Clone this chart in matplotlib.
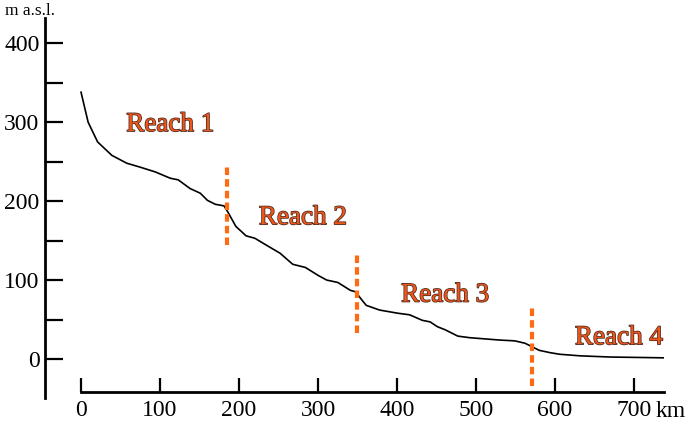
import matplotlib
matplotlib.use('Agg')
import matplotlib.pyplot as plt
import matplotlib.patheffects as pe

# longitudinal profile (km from source, elevation m a.s.l.)
km = [0, 9, 21, 39, 58, 75, 94, 113, 123, 138, 151, 160, 170, 181, 186,
      196, 209, 220, 235, 252, 268, 284, 300, 311, 325, 341, 348, 353, 361,
      378, 401, 416, 432, 442, 451, 461, 477, 492, 530, 549, 562, 572, 580,
      594, 606, 632, 670, 737]
elev = [338, 300, 275, 258, 248, 243, 237, 229, 227, 216, 210, 201, 196, 194, 186,
        168, 156, 153, 144, 134, 120, 116, 106, 100, 97, 87, 85, 78, 68,
        62, 58, 56, 49, 47, 41, 37, 29, 27, 24, 23, 20, 15, 11,
        8, 6, 4, 2.5, 1.5]

# reach boundaries: km, dashed line from/to elevation
bound_km = [185, 349, 571]
bound_top = [243, 132, 65]
bound_bot = [144, 33, -34]

reach_names = ['Reach 1', 'Reach 2', 'Reach 3', 'Reach 4']
reach_x = [113, 281, 461, 681]
reach_y = [297, 179, 81, 27]

yticks = [0, 100, 200, 300, 400]
yminor = [50, 150, 250, 350]
xticks = [0, 100, 200, 300, 400, 500, 600, 700]

plt.rcParams['font.family'] = ['Liberation Serif', 'DejaVu Serif']

W, H = 692, 423
fig = plt.figure(figsize=(W / 100, H / 100), dpi=100)
# axes box in pixels: x 45..664, y 18..398
ax = fig.add_axes([45 / W, 1 - 398 / H, (664 - 45) / W, (398 - 18) / H])
ax.set_xlim(-45.6, 738)
ax.set_ylim(-49.4, 432)

ax.plot(km, elev, color='black', lw=1.2)

orange = '#ff6a13'
for x, t, b in zip(bound_km, bound_top, bound_bot):
    ax.plot([x, x], [b, t], color=orange, lw=3, ls=(0, (1.8, 1.0)),
            solid_capstyle='butt', dash_capstyle='butt')

for name, x, y in zip(reach_names, reach_x, reach_y):
    ax.text(x, y, name, color='#f0561a', fontsize=19.5, ha='center', va='center',
            path_effects=[pe.withStroke(linewidth=1.1, foreground='#4a2a20')])

for s in ['top', 'right']:
    ax.spines[s].set_visible(False)
ax.spines['left'].set_linewidth(2)
ax.spines['bottom'].set_linewidth(2)
ax.spines['bottom'].set_position(('data', -41.8))
ax.spines['bottom'].set_bounds(0, 738)

ax.set_yticks(yticks)
ax.set_yticks(yminor, minor=True)
ax.set_xticks(xticks)
ax.tick_params(axis='y', which='both', direction='in', length=13, width=1.6,
               labelsize=17, pad=4)
ax.tick_params(axis='x', direction='in', length=10, width=1.6, labelsize=17, pad=6)

# unit labels
ax.annotate('km', xy=(727, -41.8), xycoords='data', xytext=(0, -6.5),
            textcoords='offset points', fontsize=17, ha='left', va='top')
fig.text(5 / W, 1 - 11 / H, 'm a.s.l.', fontsize=12.5, ha='left', va='center')

fig.savefig('out.png', dpi=100)
